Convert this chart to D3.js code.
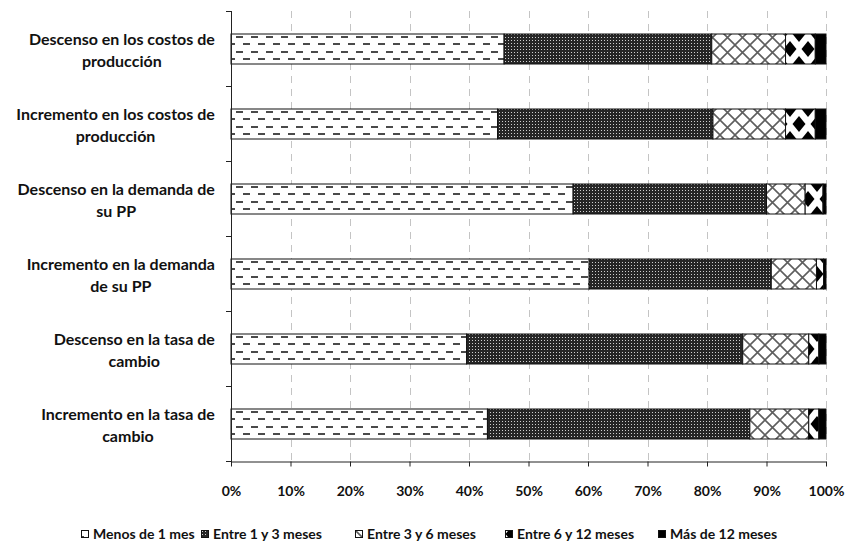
<!DOCTYPE html>
<html>
<head>
<meta charset="utf-8">
<script src="https://cdn.jsdelivr.net/npm/d3@7"></script>
<style>
  html, body { margin: 0; padding: 0; background: #fff; }
  svg { display: block; }
  text { font-family: Lato, "Open Sans", sans-serif; font-weight: 700; fill: #111; }
</style>
</head>
<body>
<svg id="chart" width="845" height="548"></svg>
<script>
// ---------- data ----------
const categories = [
  "Descenso en los costos de\nproducción",
  "Incremento en los costos de\nproducción",
  "Descenso en la demanda de\nsu PP",
  "Incremento en la demanda\nde su PP",
  "Descenso en la tasa de\ncambio",
  "Incremento en la tasa de\ncambio"
];
const seriesNames = ["Menos de 1 mes", "Entre 1 y 3 meses", "Entre 3 y 6 meses", "Entre 6 y 12 meses", "Más de 12 meses"];
const menosDe1Mes   = [45.9, 44.8, 57.5, 60.2, 39.6, 43.1];
const entre1y3Meses = [34.9, 36.2, 32.5, 30.6, 46.4, 44.1];
const entre3y6Meses = [12.4, 12.2, 6.5, 7.6, 11.1, 9.9];
const entre6y12Meses = [5.0, 5.0, 3.0, 1.2, 1.7, 1.7];
const masDe12Meses  = [1.8, 1.8, 0.5, 0.4, 1.2, 1.2];
const xTicks = [0, 10, 20, 30, 40, 50, 60, 70, 80, 90, 100];

const seriesValues = [menosDe1Mes, entre1y3Meses, entre3y6Meses, entre6y12Meses, masDe12Meses];
const rows = categories.map((c, i) => {
  const r = { category: c };
  seriesNames.forEach((s, j) => r[s] = seriesValues[j][i]);
  return r;
});

// ---------- setup ----------
const svg = d3.select("#chart");
const defs = svg.append("defs");

// pattern 0: dashes
const p0 = defs.append("pattern").attr("id", "pat0").attr("patternUnits", "userSpaceOnUse")
  .attr("width", 15).attr("height", 15);
p0.append("rect").attr("width", 15).attr("height", 15).attr("fill", "#fff");
p0.append("rect").attr("x", 11).attr("y", 6).attr("width", 7).attr("height", 2).attr("fill", "#4a4a4a");
p0.append("rect").attr("x", -4).attr("y", 6).attr("width", 7).attr("height", 2).attr("fill", "#4a4a4a");
p0.append("rect").attr("x", 3).attr("y", 13).attr("width", 7).attr("height", 2).attr("fill", "#4a4a4a");

// pattern 1: dark with light dots
const p1 = defs.append("pattern").attr("id", "pat1").attr("patternUnits", "userSpaceOnUse")
  .attr("width", 3).attr("height", 3);
p1.append("rect").attr("width", 3).attr("height", 3).attr("fill", "#262626");
p1.append("rect").attr("x", 1).attr("y", 1).attr("width", 1).attr("height", 1).attr("fill", "#cfcfcf");

// pattern 2: diagonal cross hatch
const p2 = defs.append("pattern").attr("id", "pat2").attr("patternUnits", "userSpaceOnUse")
  .attr("width", 15).attr("height", 15);
p2.append("rect").attr("width", 15).attr("height", 15).attr("fill", "#fff");
p2.append("path").attr("d", "M0,0L15,15M15,0L0,15").attr("stroke", "#5e5e5e").attr("stroke-width", 1.6).attr("fill", "none");

// pattern 3: black diamonds
const p3 = defs.append("pattern").attr("id", "pat3").attr("patternUnits", "userSpaceOnUse")
  .attr("x", 7).attr("y", 4).attr("width", 18).attr("height", 30);
p3.append("rect").attr("width", 18).attr("height", 30).attr("fill", "#fff");
const dia = (cx, cy, rx, ry) => `M${cx},${cy - ry}L${cx + rx},${cy}L${cx},${cy + ry}L${cx - rx},${cy}Z`;
p3.append("path").attr("d", [dia(0,0,6.5,8), dia(18,0,6.5,8), dia(0,30,6.5,8), dia(18,30,6.5,8), dia(9,15,6.5,8)].join(""))
  .attr("fill", "#000");

const fills = ["url(#pat0)", "url(#pat1)", "url(#pat2)", "url(#pat3)", "#000"];

// ---------- scales ----------
const x = d3.scaleLinear().domain([0, 100]).range([231, 826]);
const y = d3.scaleBand().domain(categories).range([11, 461]).paddingInner(0.6).paddingOuter(0.3);

// gridlines
svg.append("g").selectAll("line").data(xTicks.filter(d => d > 0)).join("line")
  .attr("x1", d => Math.round(x(d)) + 0.5).attr("x2", d => Math.round(x(d)) + 0.5)
  .attr("y1", 11).attr("y2", 461)
  .attr("stroke", "#c4c4c4").attr("stroke-width", 1).attr("stroke-dasharray", "7,6");

// bars
const stack = d3.stack().keys(seriesNames);
const stacked = stack(rows);
svg.append("g").selectAll("g").data(stacked).join("g")
  .attr("fill", (d, i) => fills[i])
  .selectAll("rect").data(d => d).join("rect")
  .attr("x", d => x(d[0]))
  .attr("width", d => x(d[1]) - x(d[0]))
  .attr("y", d => y(d.data.category) + 0.5)
  .attr("height", y.bandwidth())
  .attr("stroke", "#111").attr("stroke-width", 1);

// x axis
const xAxis = d3.axisBottom(x).tickValues(xTicks).tickFormat(d => d + "%")
  .tickSize(5).tickSizeOuter(0).tickPadding(20);
const gx = svg.append("g").attr("transform", "translate(0,461.5)").call(xAxis);
gx.select(".domain").attr("stroke", "#222");
gx.selectAll(".tick line").attr("stroke", "#222");
gx.selectAll(".tick text").attr("font-size", 14).attr("font-family", "Lato, sans-serif").attr("font-weight", 700).attr("fill", "#111");

// y axis
const bounds = d3.range(categories.length + 1).map(i => y.range()[0] + i * y.step());
svg.append("line").attr("x1", 231.5).attr("x2", 231.5).attr("y1", 11).attr("y2", 462).attr("stroke", "#222");
svg.append("g").selectAll("line").data(bounds).join("line")
  .attr("x1", 226).attr("x2", 231.5)
  .attr("y1", d => Math.round(d) + 0.5).attr("y2", d => Math.round(d) + 0.5)
  .attr("stroke", "#222");

// category labels
const lab = svg.append("g").selectAll("text").data(categories).join("text")
  .attr("text-anchor", "middle")
  .attr("font-size", 16);
lab.each(function(c) {
  const lines = c.split("\n");
  const t = d3.select(this);
  const cy = y(c) + y.bandwidth() / 2;
  lines.forEach((ln, i) => {
    t.append("tspan").attr("x", 0).attr("y", cy - 4 + i * 22).text(ln);
  });
  const w = this.getBBox().width;
  t.selectAll("tspan").attr("x", 215 - w / 2);
});

// legend
const legendX = [81, 201, 355, 505, 658];
const lg = svg.append("g").selectAll("g").data(seriesNames).join("g")
  .attr("transform", (d, i) => `translate(${legendX[i]},530)`);
lg.append("rect").attr("x", 0.5).attr("y", 0.5).attr("width", 7).attr("height", 7)
  .attr("fill", (d, i) => fills[i]).attr("stroke", "#111").attr("stroke-width", 1);
lg.append("text").attr("x", 12).attr("y", 8.5).attr("font-size", 14).text(d => d);
</script>
</body>
</html>
